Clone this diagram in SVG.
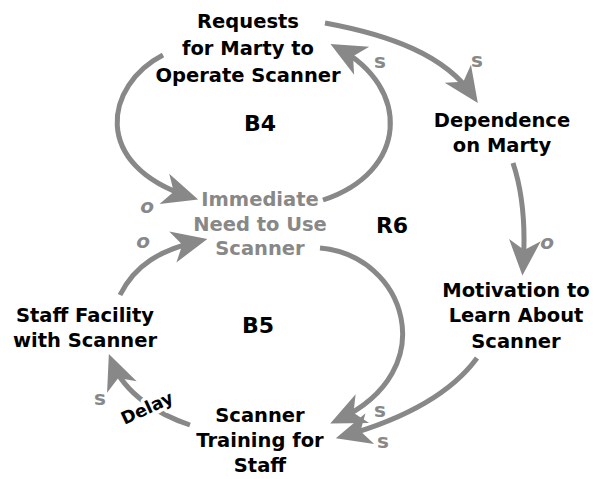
<svg xmlns="http://www.w3.org/2000/svg" width="595" height="479" viewBox="0 0 595 479">
<style>
.n{font-family:"DejaVu Sans","Liberation Sans",sans-serif;font-weight:bold;font-size:19.5px;fill:#000;text-anchor:middle}
.g{fill:#888}
.lbl{font-family:"DejaVu Sans","Liberation Sans",sans-serif;font-weight:bold;font-size:20px;fill:#888;text-anchor:middle}
.lp{font-family:"DejaVu Sans","Liberation Sans",sans-serif;font-weight:bold;font-size:22px;fill:#000;text-anchor:middle}
.c{fill:none;stroke:#888;stroke-width:5;marker-end:url(#ah)}
.dl{font-family:"DejaVu Sans","Liberation Sans",sans-serif;font-weight:bold;font-size:17.5px;fill:#000;text-anchor:middle;stroke:#fff;stroke-width:7;paint-order:stroke;stroke-linejoin:round}
</style>
<defs>
<marker id="ah" markerUnits="userSpaceOnUse" orient="auto" markerWidth="44" markerHeight="44" viewBox="-26 -16 36 32" refX="0" refY="0">
<path d="M7,0 L-22,-13 L-14,0 L-22,13 Z" fill="#888"/>
</marker>
</defs>
<rect width="595" height="479" fill="#fff"/>
<g id="connectors">
<path class="c" d="M163,55 C105,85 90,165 190,197"/>
<path class="c" d="M323,200 C408,172 412,88 338,48"/>
<path class="c" d="M325,23 C390,35 445,55 473,96"/>
<path class="c" d="M513,163 C522,190 526,225 523,267"/>
<path class="c" d="M477,358 C450,395 400,420 344,436"/>
<path class="c" d="M320,248 C405,255 445,370 338,420"/>
<path class="c" d="M120,295 C135,265 160,250 199,241"/>
<path class="c" d="M190,425 C160,415 125,395 112,362"/>
<text class="lbl" x="147" y="213" font-style="italic">o</text>
<text class="lbl" x="143" y="248" font-style="italic">o</text>
<text class="lbl" x="380" y="68">s</text>
<text class="lbl" x="477" y="67">s</text>
<text class="lbl" x="547" y="249" font-style="italic">o</text>
<text class="lbl" x="380" y="417">s</text>
<text class="lbl" x="383" y="448">s</text>
<text class="lbl" x="100" y="405">s</text>
<text class="dl" x="147" y="414" transform="rotate(-25 147 408)">Delay</text>
</g>
<g id="requests"><text class="n" x="248"><tspan x="248" y="28">Requests</tspan><tspan x="248" y="55">for Marty to</tspan><tspan x="248" y="82">Operate Scanner</tspan></text></g>
<g id="immediate"><text class="n g" x="260"><tspan x="260" y="206">Immediate</tspan><tspan x="260" y="231">Need to Use</tspan><tspan x="260" y="255">Scanner</tspan></text></g>
<g id="dependence"><text class="n" x="502"><tspan x="502" y="127">Dependence</tspan><tspan x="502" y="152">on Marty</tspan></text></g>
<g id="motivation"><text class="n" x="516"><tspan x="516" y="297">Motivation to</tspan><tspan x="516" y="322">Learn About</tspan><tspan x="516" y="348">Scanner</tspan></text></g>
<g id="facility"><text class="n" x="85"><tspan x="85" y="322">Staff Facility</tspan><tspan x="85" y="347">with Scanner</tspan></text></g>
<g id="training"><text class="n" x="260"><tspan x="260" y="422">Scanner</tspan><tspan x="260" y="447">Training for</tspan><tspan x="260" y="472">Staff</tspan></text></g>
<g id="loops">
<text class="lp" x="260" y="131">B4</text>
<text class="lp" x="392" y="233">R6</text>
<text class="lp" x="258" y="333">B5</text>
</g>
</svg>
